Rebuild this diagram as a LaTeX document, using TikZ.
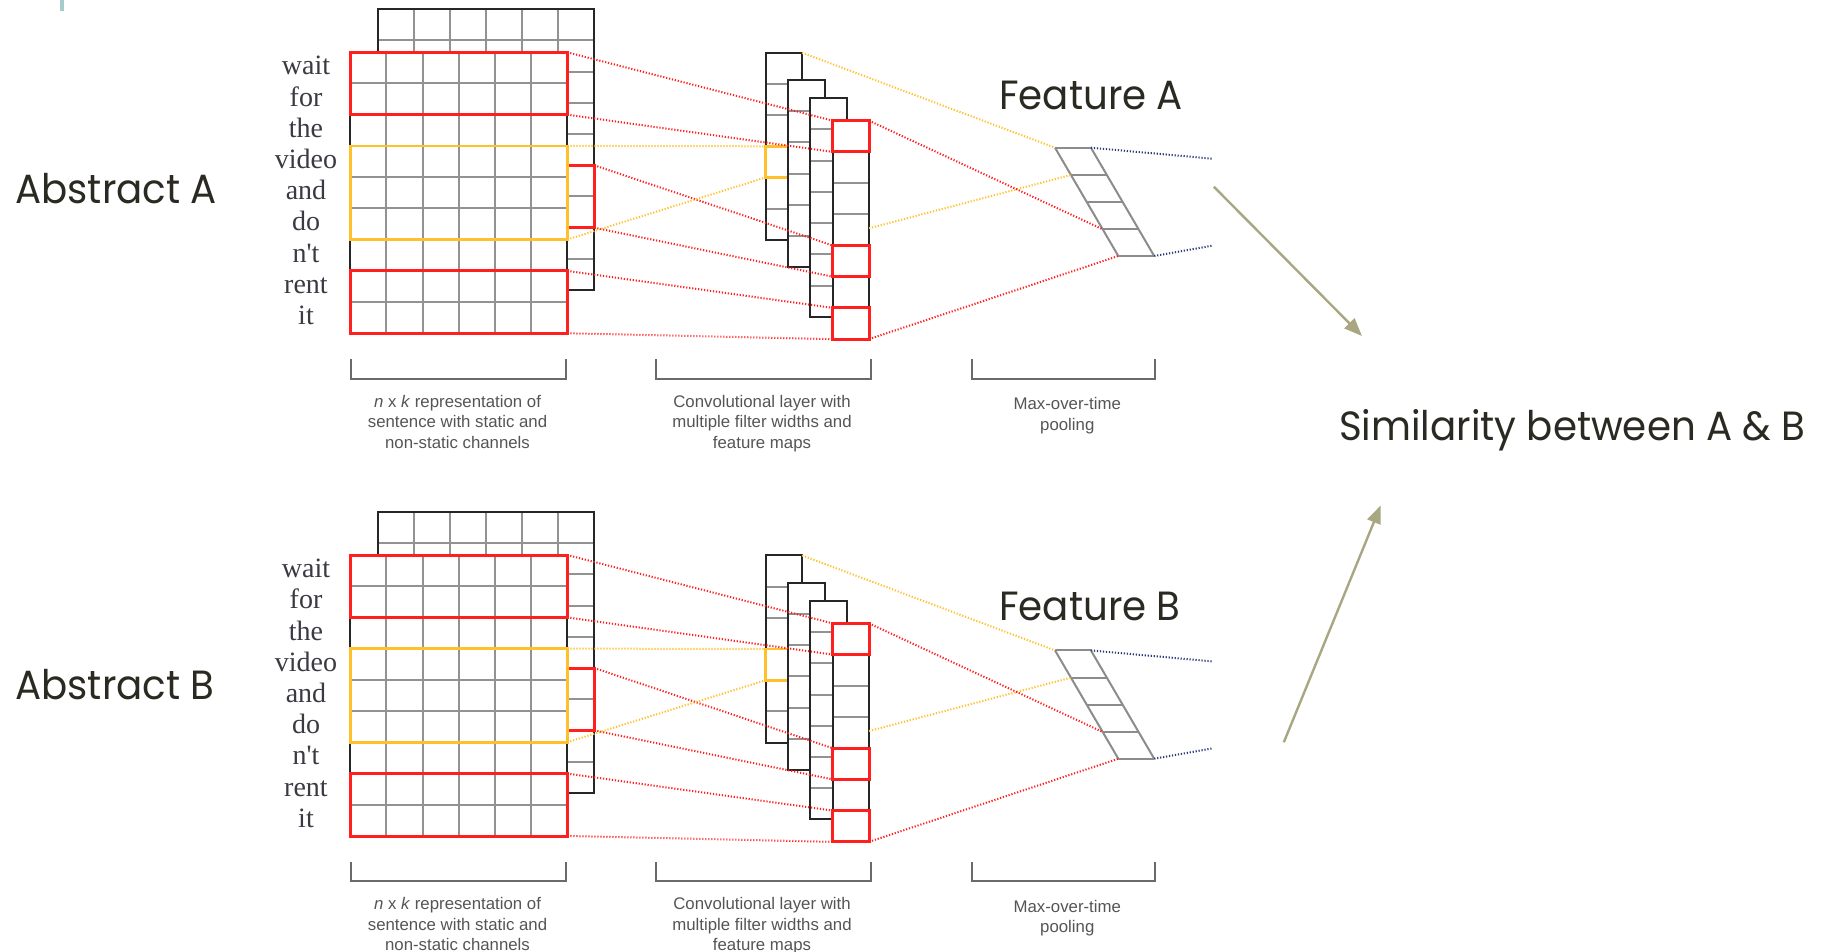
\documentclass[tikz,border=0pt]{standalone}
\usepackage{fontspec}
\setmainfont{Liberation Serif}
\newfontfamily\slidefont[FakeStretch=0.95]{Poppins}
\newfontfamily\labelfont{Liberation Sans}
\usetikzlibrary{arrows.meta}

\definecolor{gridred}{HTML}{FF1F1F}
\definecolor{gridyellow}{HTML}{FFC12B}
\definecolor{cellgray}{HTML}{929292}
\definecolor{poolgray}{HTML}{8C8C8C}
\definecolor{navydot}{HTML}{2C3A78}
\definecolor{slidetext}{HTML}{2B2A22}
\definecolor{arrowolive}{HTML}{A9A682}
\definecolor{accentteal}{HTML}{A6CBCB}
\definecolor{wordcol}{HTML}{3A3A42}
\definecolor{labelgray}{HTML}{555555}
\definecolor{bracketgray}{HTML}{6A6A6A}

\tikzset{
  outer/.style={draw=black!85, line width=1pt},
  inner/.style={draw=cellgray, line width=1pt},
  redbox/.style={draw=gridred, line width=1.5pt},
  yellowbox/.style={draw=gridyellow, line width=1.3pt},
  reddots/.style={draw=gridred, line width=1pt, dash pattern=on 0.6pt off 0.9pt},
  yellowdots/.style={draw=gridyellow, line width=1pt, dash pattern=on 0.6pt off 0.9pt},
  navydots/.style={draw=navydot, line width=1pt, dash pattern=on 0.6pt off 0.9pt},
  poolline/.style={draw=poolgray, line width=1pt},
  bracket/.style={draw=bracketgray, line width=1pt},
  word/.style={font=\fontsize{14}{16}\selectfont, text=wordcol, anchor=base, inner sep=0pt},
  lbl/.style={font=\labelfont\fontsize{8.4}{10.3}\selectfont, text=labelgray, align=center, anchor=north, inner sep=0pt},
  slide/.style={font=\slidefont\fontsize{20.4}{24}\selectfont, text=slidetext, anchor=base west, inner sep=0pt},
  simarrow/.style={draw=arrowolive, line width=1.2pt, -{Triangle[length=9pt, width=7pt]}},
}

% one feature map column: left x, top y, number of cells
\newcommand\fmap[3]{%
  \fill[white] (#1,#2) rectangle ({#1+36.4},{#2+31.2*#3});
  \pgfmathtruncatemacro\nlast{#3-1}
  \foreach \i in {1,...,\nlast}
    \draw[inner] (#1,{#2+31.2*\i}) -- ({#1+36.4},{#2+31.2*\i});
  \draw[outer] (#1,#2) rectangle ({#1+36.4},{#2+31.2*#3});
}

% the whole CNN pipeline, coordinate names prefixed by #1
\newcommand\cnnpanel[1]{%
  % back channel
  \fill[white] (377.7,9.3) rectangle (594.3,290);
  \foreach \i in {1,...,8}
    \draw[inner] (377.7,{9.3+31.2*\i}) -- (594.3,{9.3+31.2*\i});
  \foreach \j in {1,...,5}
    \draw[inner] ({377.7+36.1*\j},9.3) -- ({377.7+36.1*\j},290);
  \draw[outer] (377.7,9.3) rectangle (594.3,290);
  \draw[redbox] (567.3,165.3) rectangle (594.3,227.7);
  % front channel
  \fill[white] (350.3,52.3) rectangle (567.3,333.3);
  \foreach \i in {1,...,8}
    \draw[inner] (350.3,{52.3+31.2*\i}) -- (567.3,{52.3+31.2*\i});
  \foreach \j in {1,...,5}
    \draw[inner] ({350.3+36.17*\j},52.3) -- ({350.3+36.17*\j},333.3);
  \draw[outer] (350.3,52.3) rectangle (567.3,333.3);
  \draw[redbox] (350.3,52.3) rectangle (567.3,114.7);
  \draw[yellowbox] (350.3,145.9) rectangle (567.3,239.5);
  \draw[redbox] (350.3,270.9) rectangle (567.3,333.3);
  % words
  \foreach \w [count=\k from 0] in {wait,for,the,video,and,do,n\textquotesingle t,rent,it}
    \node[word] (#1w\k) at (306,{67.9+31.2*\k+7}) {\w};
  % feature maps
  \fmap{765.7}{52.7}{6}
  \draw[yellowbox] (765.7,146.3) rectangle (802.1,177.5);
  \fmap{788.3}{80}{6}
  \fmap{810.3}{98.3}{7}
  \fmap{832.7}{120.7}{7}
  \draw[redbox] (832.7,120.7) rectangle (869.1,151.9);
  \draw[redbox] (832.7,245.5) rectangle (869.1,276.7);
  \draw[redbox] (832.7,307.9) rectangle (869.1,339.1);
  % max pooling column
  \foreach \yy/\xx in {147.7/1055,175/1070.7,202.3/1086.7,229.3/1102.7,256/1118.3}
    \draw[poolline] (\xx,\yy) -- ({\xx+35.9},\yy);
  \draw[poolline] (1055,147.7) -- (1118.3,256);
  \draw[poolline] (1090.9,147.7) -- (1154.2,256);
  % anchor points of the connectors
  \coordinate (#1ra1) at (567.3,52.3);
  \coordinate (#1ra2) at (567.3,114.7);
  \coordinate (#1rb1) at (594.3,165.3);
  \coordinate (#1rb2) at (594.3,227.7);
  \coordinate (#1rc1) at (567.3,270.9);
  \coordinate (#1rc2) at (567.3,333.3);
  \coordinate (#1ya1) at (567.3,145.9);
  \coordinate (#1ya2) at (567.3,239.5);
  \coordinate (#1m0a) at (832.7,120.7);
  \coordinate (#1m0b) at (832.7,151.9);
  \coordinate (#1m4a) at (832.7,245.5);
  \coordinate (#1m4b) at (832.7,276.7);
  \coordinate (#1m6a) at (832.7,307.9);
  \coordinate (#1m6b) at (832.7,339.1);
  \coordinate (#1my1) at (765.7,146.3);
  \coordinate (#1my2) at (765.7,177.5);
  \coordinate (#1mtop) at (802.1,52.7);
  \coordinate (#1mmid) at (869.1,228.3);
  \coordinate (#1mr0) at (869.1,120.7);
  \coordinate (#1mr6) at (869.1,339.1);
  \coordinate (#1p0) at (1055,147.7);
  \coordinate (#1p1) at (1070.7,175);
  \coordinate (#1p3) at (1102.7,229.3);
  \coordinate (#1p4) at (1118.3,256);
  \coordinate (#1q0) at (1090.9,147.7);
  \coordinate (#1q4) at (1154.2,256);
  \coordinate (#1o1) at (1212.3,158.7);
  \coordinate (#1o2) at (1212.3,245.7);
  % connectors
  \draw[reddots] (#1ra1) -- (#1m0a);
  \draw[reddots] (#1ra2) -- (#1m0b);
  \draw[reddots] (#1rb1) -- (#1m4a);
  \draw[reddots] (#1rb2) -- (#1m4b);
  \draw[reddots] (#1rc1) -- (#1m6a);
  \draw[reddots] (#1rc2) -- (#1m6b);
  \draw[yellowdots] (#1ya1) -- (#1my1);
  \draw[yellowdots] (#1ya2) -- (#1my2);
  \draw[yellowdots] (#1mtop) -- (#1p0);
  \draw[yellowdots] (#1mmid) -- (#1p1);
  \draw[reddots] (#1mr0) -- (#1p3);
  \draw[reddots] (#1mr6) -- (#1p4);
  \draw[navydots] (#1q0) -- (#1o1);
  \draw[navydots] (#1q4) -- (#1o2);
  % captions
  \draw[bracket] (350.7,359.3) -- (350.7,378.7) -- (566,378.7) -- (566,359.3);
  \draw[bracket] (655.7,359.3) -- (655.7,378.7) -- (870.7,378.7) -- (870.7,359.3);
  \draw[bracket] (972.3,359.3) -- (972.3,378.7) -- (1155,378.7) -- (1155,359.3);
  \node[lbl] (#1cap1) at (457.5,394.5) {\textit{n} x \textit{k} representation of\\sentence with static and\\non-static channels};
  \node[lbl] (#1cap2) at (762,394.5) {Convolutional layer with\\multiple filter widths and\\feature maps};
  \node[lbl] (#1cap3) at (1067.3,397) {Max-over-time\\pooling};
}

\begin{document}
\begin{tikzpicture}[x=0.5pt, y=-0.5pt]
  \useasboundingbox (0,0) rectangle (1830,952);
  \fill[white] (0,0) rectangle (1830,952);
  \fill[accentteal] (60.3,0) rectangle (64,11);

  \cnnpanel{a}
  \begin{scope}[yshift=-251.35pt]
    \cnnpanel{b}
  \end{scope}

  \node[slide] (absA) at (15,203.5) {Abstract A};
  \node[slide] (absB) at (15,699) {Abstract B};
  \node[slide] (featA) at (999,109.5) {Feature A};
  \node[slide] (featB) at (999,620) {Feature B};
  \node[slide] (sim) at (1338.7,440) {Similarity between A \& B};

  \coordinate (arrAstart) at (1213.8,186.7);
  \coordinate (arrAend) at (1362,336);
  \coordinate (arrBstart) at (1283.8,742.3);
  \coordinate (arrBend) at (1380.7,505.4);
  \draw[simarrow] (arrAstart) -- (arrAend);
  \draw[simarrow] (arrBstart) -- (arrBend);
\end{tikzpicture}
\end{document}
